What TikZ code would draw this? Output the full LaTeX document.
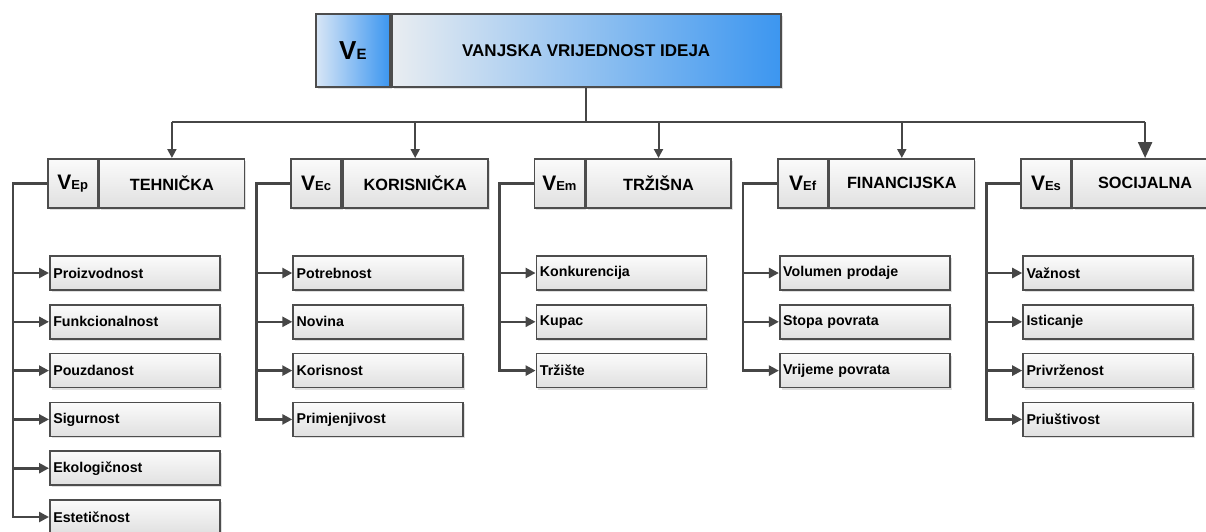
\documentclass[tikz,border=0pt]{standalone}
\usepackage{fontspec}
\setmainfont{Liberation Sans}
\usetikzlibrary{shadows,arrows.meta,calc}
\definecolor{linec}{HTML}{464646}
\definecolor{boxline}{HTML}{4D4D4D}
\definecolor{gtop}{HTML}{FBFBFB}
\definecolor{gbot}{HTML}{E0E0E0}
\definecolor{blueA}{HTML}{D8E6F6}
\definecolor{blueB}{HTML}{3C96F0}
\definecolor{paleA}{HTML}{E9EDF1}
\begin{document}
\begin{tikzpicture}[x=1pt,y=-1pt,
  shadowed/.style={drop shadow={opacity=0.25, shadow xshift=2pt, shadow yshift=-2pt}},
  box/.style={draw=boxline, line width=1.6pt, top color=gtop, bottom color=gbot, inner sep=0pt, shadowed},
  catL/.style={box, minimum width=50pt, minimum height=49pt, anchor=north west, font=\bfseries},
  catR/.style={box, minimum width=145pt, minimum height=49pt, anchor=north west, font=\fontsize{16.3}{18}\selectfont\bfseries},
  item/.style={box, minimum height=34pt, text width=163pt, inner xsep=3.5pt, align=left, anchor=west, font=\fontsize{14.2}{16}\selectfont\bfseries},
  topL/.style={draw=boxline, line width=1.8pt, left color=blueA, right color=blueB, minimum width=74pt, minimum height=73pt, anchor=north west, inner sep=0pt, font=\bfseries, shadowed},
  topR/.style={draw=boxline, line width=1.8pt, left color=paleA, right color=blueB, minimum width=389pt, minimum height=73pt, anchor=north west, inner sep=0pt, font=\fontsize{17}{19}\selectfont\bfseries, shadowed},
  line/.style={draw=linec, line width=2pt},
  arr/.style={line, -{Triangle[length=9pt,width=9pt]}},
  trunk/.style={draw=linec, line width=2.6pt, -{Triangle[length=10pt,width=10pt]}},
  childarr/.style={draw=linec, line width=2.6pt, -{Triangle[length=10pt,width=10pt]}}
]
\useasboundingbox (0,0) rectangle (1206,531);
\clip (0,0) rectangle (1206,531);

\node[topL] (veL) at (315,13) {{\fontsize{26}{26}\selectfont V}{\fontsize{15}{15}\selectfont E}};
\node[topR] (veR) at (veL.north east) {VANJSKA VRIJEDNOST IDEJA};
\coordinate (lev) at (0,122);

\foreach \k/\s/\name/\n/\items in {
 0/Ep/TEHNIČKA/6/{Proizvodnost,Funkcionalnost,Pouzdanost,Sigurnost,Ekologičnost,Estetičnost},
 1/Ec/KORISNIČKA/4/{Potrebnost,Novina,Korisnost,Primjenjivost},
 2/Em/TRŽIŠNA/3/{Konkurencija,Kupac,Tržište},
 3/Ef/FINANCIJSKA/3/{Volumen prodaje,Stopa povrata,Vrijeme povrata},
 4/Es/SOCIJALNA/4/{Važnost,Isticanje,Privrženost,Priuštivost}}
{
 \node[catL] (L\k) at (47+243.3*\k,158) {{\fontsize{21}{21}\selectfont V}{\fontsize{13}{13}\selectfont \s}};
 \node[catR] (R\k) at (L\k.north east) {\name};
 \foreach \it [count=\j from 0] in \items {
   \node[item] (c\k-\j) at (49+243.3*\k, 273+48.8*\j) {\it};
 }
 \coordinate (t\k) at (13+243.3*\k, 183);
 \pgfmathtruncatemacro\last{\n-1}
 \pgfmathtruncatemacro\lastm{\n-2}
 \draw[trunk] (L\k.west) -| (c\k-\last.west -| t\k) -- (c\k-\last.west);
 \foreach \j in {0,...,\lastm} {
   \draw[childarr] (c\k-\j.west -| t\k) -- (c\k-\j.west);
 }
}

\draw[line] (veR.south) -- (veR.south |- lev);
\draw[line] (R0.north |- lev) -- (R4.north |- lev);
\foreach \k in {0,...,3} { \draw[arr] (R\k.north |- lev) -- (R\k.north); }
\draw[line, line width=2.4pt, -{Triangle[length=16pt,width=14pt]}] (R4.north |- lev) -- (R4.north);
\end{tikzpicture}
\end{document}
